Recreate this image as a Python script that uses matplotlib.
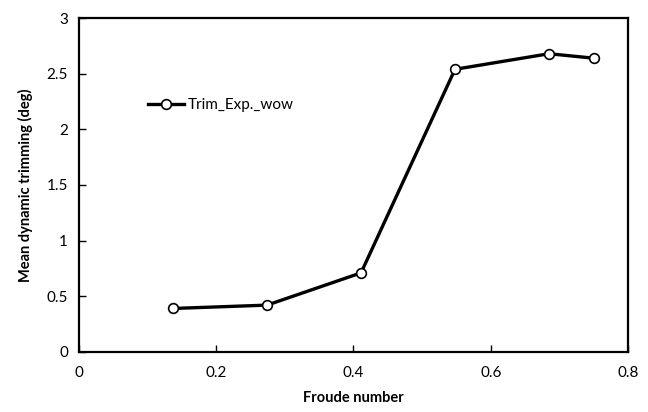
import matplotlib.pyplot as plt

froude = [0.137, 0.274, 0.411, 0.548, 0.685, 0.75]
trim = [0.39, 0.42, 0.71, 2.54, 2.68, 2.64]
xticks = [0, 0.2, 0.4, 0.6, 0.8]
yticks = [0, 0.5, 1, 1.5, 2, 2.5, 3]
ytick_labels = ["0", "0.5", "1", "1.5", "2", "2.5", "3"]

plt.rcParams["font.family"] = ["Lato", "DejaVu Sans"]

fig = plt.figure(figsize=(6.48, 4.12), dpi=100)
ax = fig.add_axes([0.122, 0.146, 0.847, 0.81])

ax.plot(froude, trim, color="black", linewidth=2.4, marker="o",
        markersize=7, markerfacecolor="white", markeredgecolor="black",
        markeredgewidth=1.2, label="Trim_Exp._wow")

ax.set_xlim(0, 0.8)
ax.set_ylim(0, 3)
ax.set_xticks(xticks)
ax.set_xticklabels(["0", "0.2", "0.4", "0.6", "0.8"])
ax.set_yticks(yticks)
ax.set_yticklabels(ytick_labels)
ax.tick_params(direction="in", length=5, width=1, labelsize=11, pad=8)
ax.tick_params(axis="x", pad=10)
for s in ax.spines.values():
    s.set_linewidth(1.6)

ax.set_xlabel("Froude number", fontweight="bold", fontsize=10.5, labelpad=8)
ax.set_ylabel("Mean dynamic trimming (deg)", fontweight="bold", fontsize=10.5, labelpad=10)

ax.legend(loc="center left", bbox_to_anchor=(0.1, 0.74), frameon=False,
          fontsize=11, handlelength=2.4, handletextpad=0.2)

fig.savefig("out.png", dpi=100)
